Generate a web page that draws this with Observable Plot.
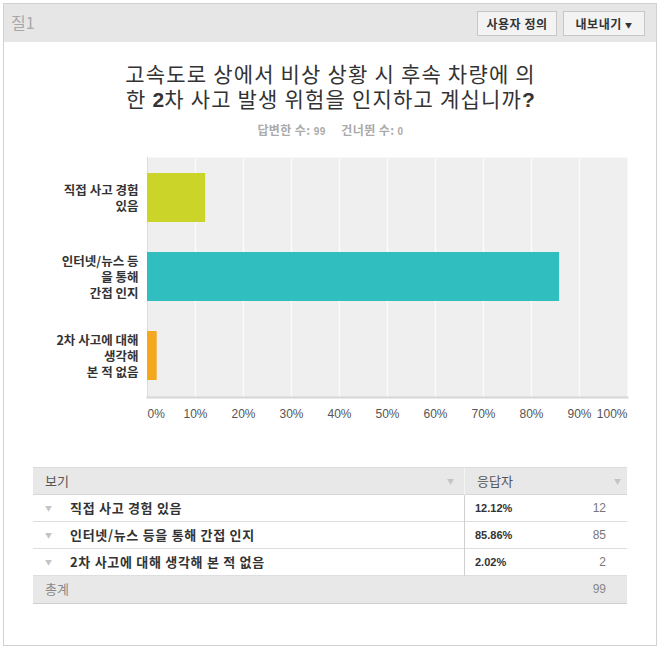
<!DOCTYPE html>
<html><head><meta charset="utf-8">
<script src="https://cdn.jsdelivr.net/npm/d3@7"></script>
<script src="https://cdn.jsdelivr.net/npm/@observablehq/plot@0.6"></script>
<style>
body{margin:0;background:#fff;font-family:"Noto Sans CJK KR","Liberation Sans",sans-serif;}
#page{position:relative;width:661px;height:649px;overflow:hidden;}
.abs{position:absolute;}
#frame{left:3px;top:3px;width:654px;height:643px;border:1px solid #d2d2d2;box-sizing:border-box;}
#header{left:4px;top:4px;width:652px;height:38px;background:#e6e6e6;}
#qnum{left:11px;top:11px;font-size:16px;line-height:22px;color:#a8a8a8;}
.btn{top:11px;height:25px;border:1px solid #c6c6c6;background:#f3f3f3;box-sizing:border-box;font-size:12px;font-weight:bold;color:#333;line-height:23px;text-align:center;letter-spacing:0.5px;}
.tline{left:0;width:661px;height:24px;text-align:center;font-size:21px;line-height:24px;color:#333;letter-spacing:1.2px;white-space:nowrap;}
.tline b{font-family:"Liberation Sans",sans-serif;font-weight:bold;letter-spacing:0;}
#sub{left:0;top:121px;width:661px;text-align:center;font-size:12px;font-weight:bold;color:#aaa;line-height:18px;letter-spacing:0.4px;}
#sub .n{font-family:"Liberation Sans",sans-serif;font-size:10px;}
#chart{left:0;top:140px;}
#chart g[aria-label="category labels"] text{letter-spacing:0.8px;}
#table{left:33px;top:467px;width:594px;}
.row{position:absolute;left:0;width:594px;box-sizing:border-box;}
.hdr{background:#e8e8e8;border-top:1px solid #dcdcdc;border-bottom:1px solid #d6d6d6;}
.body{border-bottom:1px solid #dedede;}
.cell{position:absolute;top:0;white-space:nowrap;}
.kr{letter-spacing:0.7px;}
.arrow{color:#c4c4c4;font-size:7px;}
.div{position:absolute;left:431px;top:0;width:1px;background:#cfcfcf;}
</style></head>
<body><div id="page">
<div id="frame" class="abs"></div>
<div id="header" class="abs"></div>
<div id="qnum" class="abs">질1</div>
<div class="btn abs" style="left:477px;width:80px;">사용자 정의</div>
<div class="btn abs" style="left:563px;width:82px;">내보내기 <span style="font-size:7px;vertical-align:1px;">▼</span></div>
<div id="title"></div>
<div id="sub" class="abs"></div>
<div id="chart" class="abs"></div>
<div id="table" class="abs"></div>
</div>
<script>
const questionLines = ["고속도로 상에서 비상 상황 시 후속 차량에 의", "한 <b>2</b>차 사고 발생 위험을 인지하고 계십니까<b>?</b>"];
const answered = 99;
const skipped = 0;
const categories = ["직접 사고 경험 있음", "인터넷/뉴스 등을 통해 간접 인지", "2차 사고에 대해 생각해 본 적 없음"];
const axisLabels = ["직접 사고 경험\n있음", "인터넷/뉴스 등\n을 통해\n간접 인지", "2차 사고에 대해\n생각해\n본 적 없음"];
const percents = [12.12, 85.86, 2.02];
const counts = [12, 85, 2];
const total = 99;
const colors = ["#cbd429", "#31bebe", "#f4a81e"];
const xTicks = [0, 10, 20, 30, 40, 50, 60, 70, 80, 90, 100];
const tickLabels = ["0%", "10%", "20%", "30%", "40%", "50%", "60%", "70%", "80%", "90%", "100%"];

document.getElementById("title").innerHTML = questionLines
  .map((l, i) => `<div class="abs tline" style="top:${61 + i * 25}px;">${l}</div>`).join("");
document.getElementById("sub").innerHTML =
  `답변한 수: <span class="n">${answered}</span>&nbsp;&nbsp;&nbsp;&nbsp; 건너뛴 수: <span class="n">${skipped}</span>`;

const data = categories.map((c, i) => ({cat: c, label: axisLabels[i], pct: percents[i]}));
const ticks = xTicks.map((t, i) => ({t, label: tickLabels[i]}));
const tickMarks = (filter, anchor) => Plot.text(ticks.filter(filter), {
  x: "t", text: "label", frameAnchor: "bottom", dy: 20, textAnchor: anchor,
  fontSize: 12, fill: "#555", fontFamily: "Liberation Sans, sans-serif"
});

const chart = Plot.plot({
  width: 661, height: 290,
  marginTop: 17, marginBottom: 33, marginLeft: 147, marginRight: 34,
  style: {fontFamily: "'Noto Sans CJK KR', 'Liberation Sans', sans-serif", background: "transparent"},
  x: {domain: [0, 100], axis: null},
  y: {domain: categories, axis: null, paddingInner: 0.375, paddingOuter: 0.2},
  color: {domain: categories, range: colors},
  marks: [
    Plot.frame({fill: "#efefef", stroke: null}),
    Plot.ruleX(xTicks.filter(t => t > 0 && t < 100), {stroke: "#fafafa", strokeWidth: 1.5}),
    Plot.frame({anchor: "left", stroke: "#dcdcdc"}),
    Plot.frame({anchor: "bottom", stroke: "#d6d6d6", strokeWidth: 2}),
    Plot.barX(data, {x: "pct", y: "cat", fill: "cat"}),
    Plot.text(data, {y: "cat", text: "label", frameAnchor: "left", textAnchor: "end", dx: -9,
      fontSize: 12.5, fontWeight: "bold", fill: "#333", lineHeight: 1.3, ariaLabel: "category labels"}),
    tickMarks(d => d.t === 0, "start"),
    tickMarks(d => d.t > 0 && d.t < 100, "middle"),
    tickMarks(d => d.t === 100, "end")
  ]
});
document.getElementById("chart").appendChild(chart);

// table
const tbl = document.getElementById("table");
let html = `<div class="row hdr" style="top:0;height:28px;">
  <div class="cell" style="left:12px;font-size:13px;line-height:26px;color:#555;">보기</div>
  <div class="cell arrow" style="left:414px;line-height:26px;">▼</div>
  <div class="div" style="height:27px;background:#f4f4f4;"></div>
  <div class="cell" style="left:444px;font-size:13px;line-height:26px;color:#555;">응답자</div>
  <div class="cell arrow" style="left:581px;line-height:26px;">▼</div>
</div>`;
categories.forEach((c, i) => {
  const top = 28 + i * 27;
  html += `<div class="row body" style="top:${top}px;height:27px;">
    <div class="cell arrow" style="left:12px;line-height:26px;">▼</div>
    <div class="cell kr" style="left:37px;font-size:13px;font-weight:bold;color:#333;line-height:26px;">${c}</div>
    <div class="div" style="height:27px;"></div>
    <div class="cell" style="left:442px;font-size:11px;font-weight:bold;color:#333;line-height:26px;font-family:'Liberation Sans',sans-serif;">${percents[i].toFixed(2)}%</div>
    <div class="cell" style="right:21px;font-size:12px;color:#777;line-height:26px;font-family:'Liberation Sans',sans-serif;">${counts[i]}</div>
  </div>`;
});
html += `<div class="row hdr" style="top:${28 + categories.length * 27}px;height:28px;border-top:none;border-bottom:1px solid #cfcfcf;">
  <div class="cell" style="left:12px;font-size:13px;line-height:26px;color:#888;">총계</div>
  <div class="cell" style="right:21px;font-size:12px;line-height:26px;color:#888;font-family:'Liberation Sans',sans-serif;">${total}</div>
</div>`;
tbl.innerHTML = html;
</script>
</body></html>
